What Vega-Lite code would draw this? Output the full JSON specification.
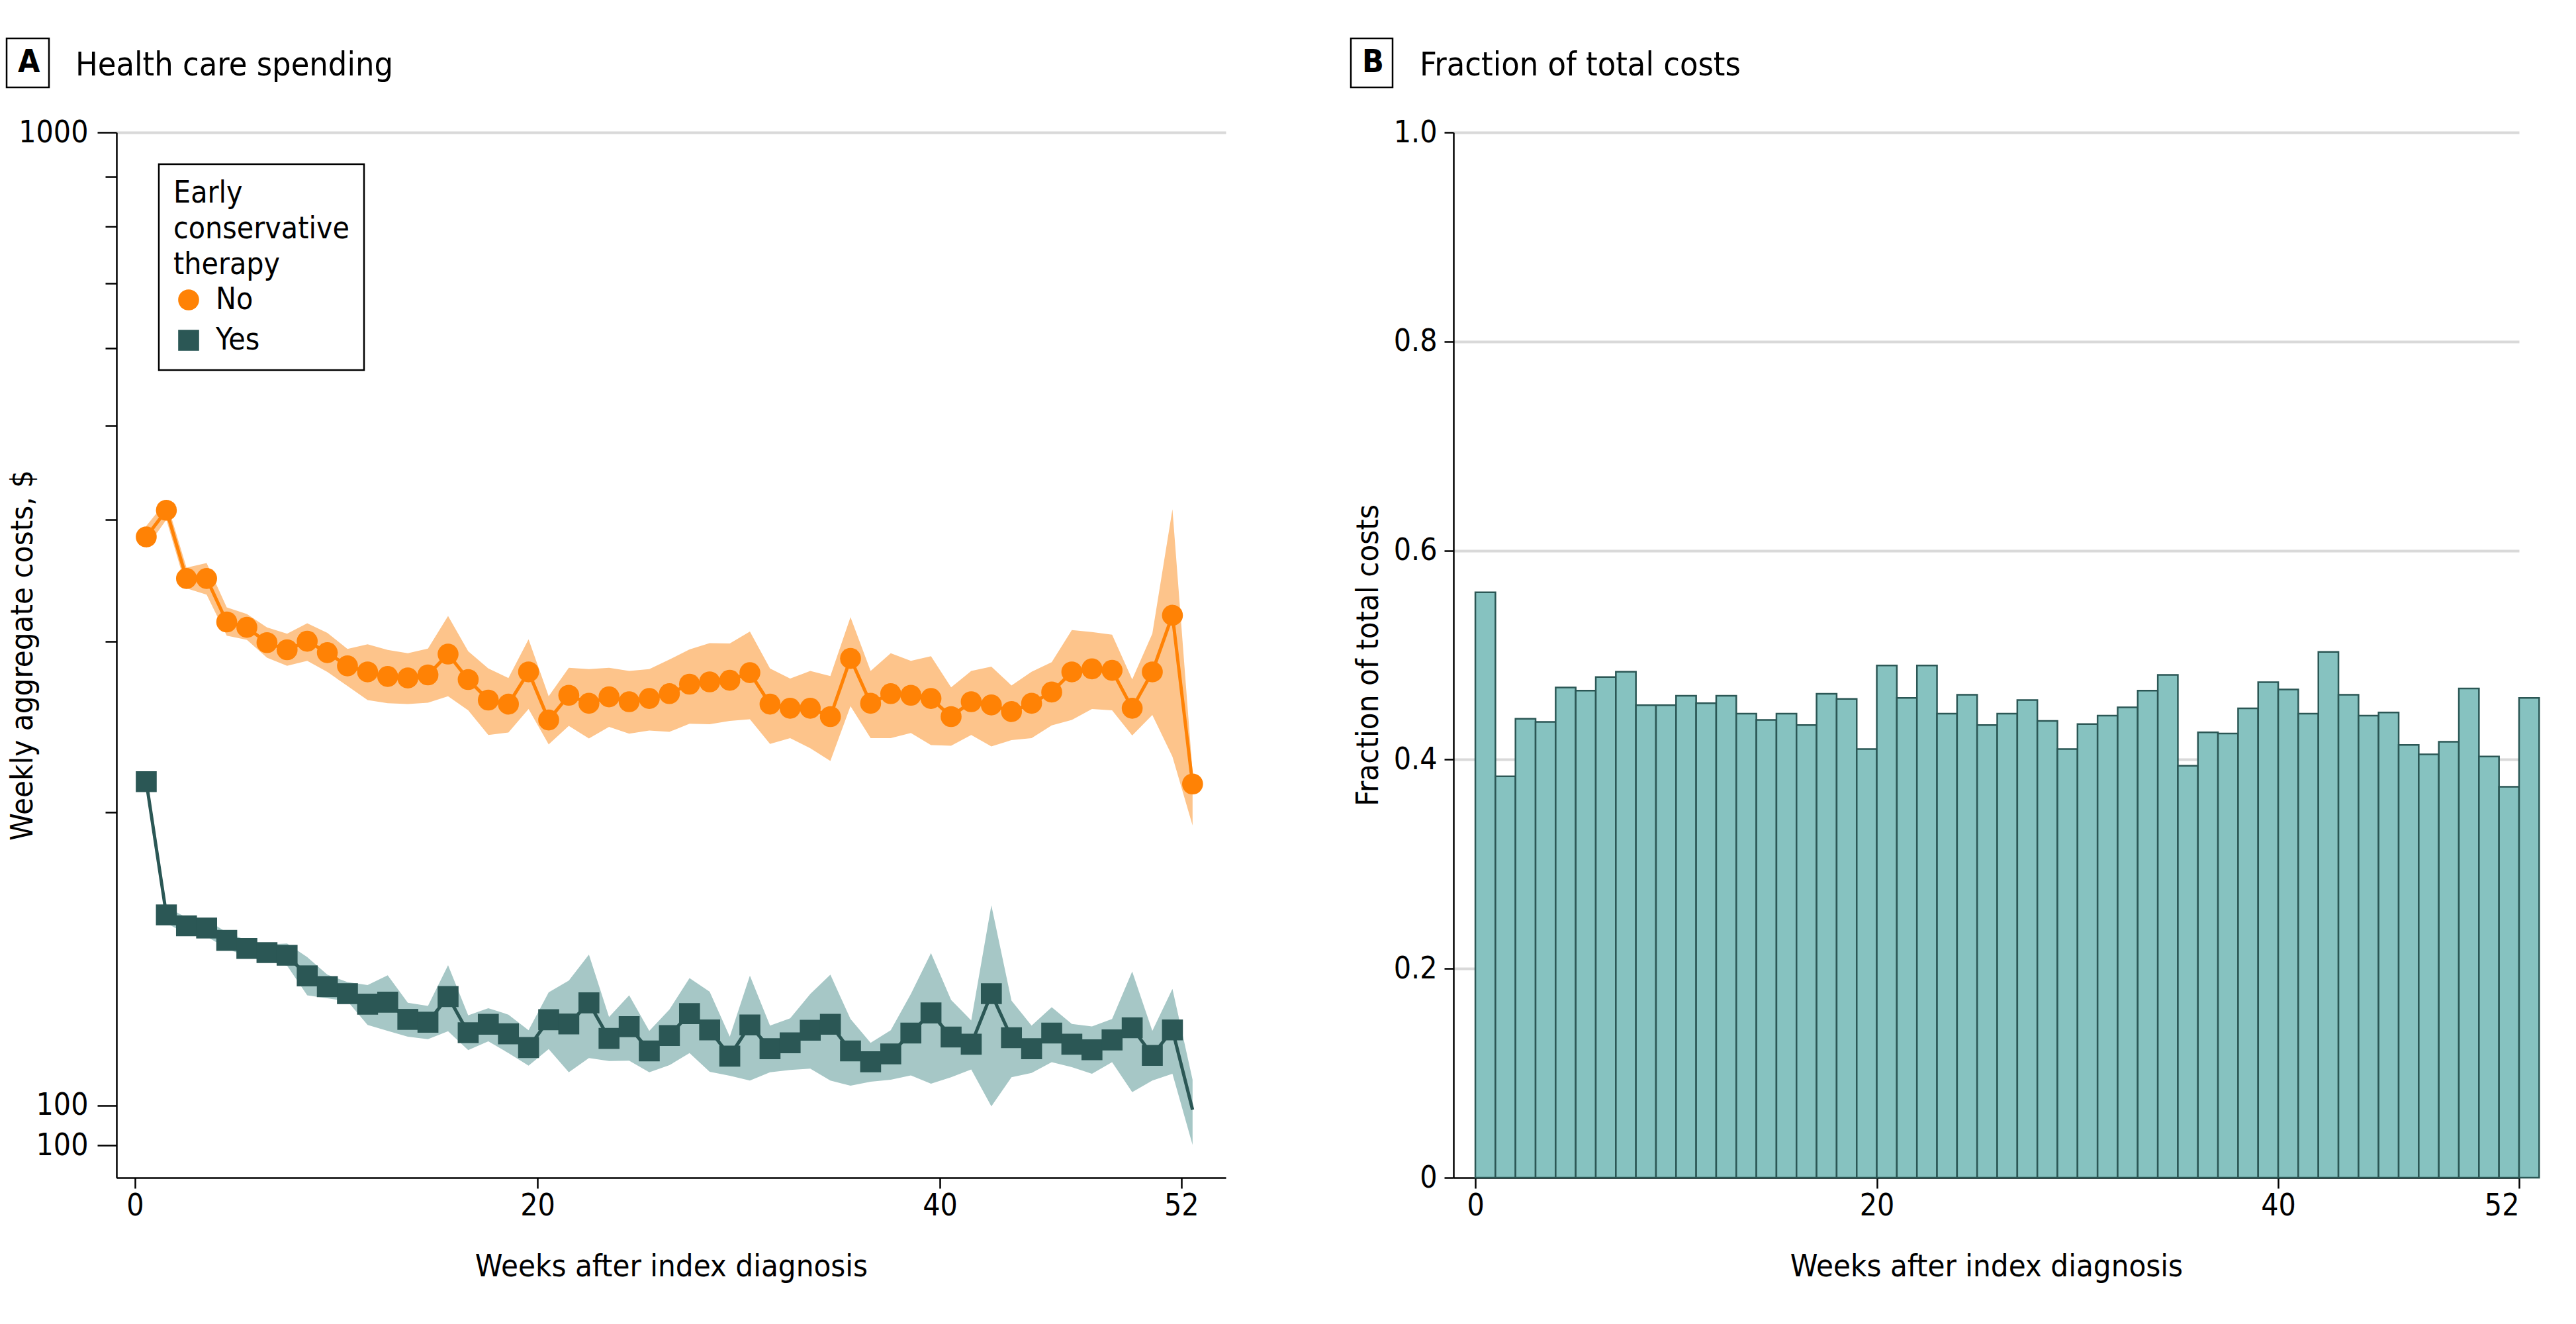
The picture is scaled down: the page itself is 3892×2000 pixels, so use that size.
{
"$schema":"https://vega.github.io/schema/vega-lite/v6.json",
"background":"white",
"padding":{"left":8,"top":56,"right":20,"bottom":20},
"config":{
 "font":"Liberation Sans Narrow, DejaVu Sans Condensed, sans-serif",
 "view":{"stroke":null},
 "axis":{"domainColor":"black","domainWidth":2.5,"tickColor":"black","tickWidth":2.5,"labelFontSize":46,"titleFontSize":47,"labelColor":"black","titleColor":"black","titleFontWeight":"normal","gridColor":"#D9D9D9","gridWidth":4,"labelFont":"Liberation Sans Narrow, DejaVu Sans Condensed, sans-serif","titleFont":"Liberation Sans Narrow, DejaVu Sans Condensed, sans-serif"},
 "title":{"fontSize":50,"fontWeight":"normal","color":"black","font":"Liberation Sans Narrow, DejaVu Sans Condensed, sans-serif"},
 "legend":{"labelFont":"Liberation Sans Narrow, DejaVu Sans Condensed, sans-serif","titleFont":"Liberation Sans Narrow, DejaVu Sans Condensed, sans-serif","strokeWidth":2.5}
},
"datasets":{
 "spending":[
{"week":0,"therapy":"No","cost":384,"lower":374,"upper":394},
{"week":1,"therapy":"No","cost":409,"lower":400,"upper":418},
{"week":2,"therapy":"No","cost":348,"lower":340,"upper":357},
{"week":3,"therapy":"No","cost":348,"lower":335,"upper":361},
{"week":4,"therapy":"No","cost":314,"lower":304,"upper":325},
{"week":5,"therapy":"No","cost":310,"lower":301,"upper":320},
{"week":6,"therapy":"No","cost":299,"lower":288.5,"upper":310},
{"week":7,"therapy":"No","cost":294,"lower":283,"upper":305.4},
{"week":8,"therapy":"No","cost":300,"lower":286.4,"upper":313},
{"week":9,"therapy":"No","cost":292,"lower":279,"upper":306},
{"week":10,"therapy":"No","cost":283,"lower":269.8,"upper":294.6},
{"week":11,"therapy":"No","cost":279,"lower":261,"upper":297.8},
{"week":12,"therapy":"No","cost":276,"lower":259.1,"upper":293.9},
{"week":13,"therapy":"No","cost":275,"lower":258.6,"upper":291.6},
{"week":14,"therapy":"No","cost":277,"lower":259.4,"upper":294.8},
{"week":15,"therapy":"No","cost":291,"lower":263.4,"upper":318.5},
{"week":16,"therapy":"No","cost":274,"lower":254.7,"upper":293},
{"week":17,"therapy":"No","cost":261,"lower":240.3,"upper":281.3},
{"week":18,"therapy":"No","cost":258.5,"lower":241.7,"upper":275},
{"week":19,"therapy":"No","cost":279,"lower":255.5,"upper":301.4},
{"week":20,"therapy":"No","cost":249,"lower":235,"upper":263.4},
{"week":21,"therapy":"No","cost":264,"lower":245.5,"upper":281.7},
{"week":22,"therapy":"No","cost":259,"lower":238.3,"upper":280.8},
{"week":23,"therapy":"No","cost":263,"lower":245,"upper":281.7},
{"week":24,"therapy":"No","cost":260,"lower":241.1,"upper":279.6},
{"week":25,"therapy":"No","cost":262,"lower":242.9,"upper":280.8},
{"week":26,"therapy":"No","cost":265,"lower":242.1,"upper":287.3},
{"week":27,"therapy":"No","cost":271,"lower":246.8,"upper":294.2},
{"week":28,"therapy":"No","cost":272.5,"lower":246.5,"upper":298.7},
{"week":29,"therapy":"No","cost":273.5,"lower":248.4,"upper":298.4},
{"week":30,"therapy":"No","cost":278.5,"lower":249.4,"upper":307},
{"week":31,"therapy":"No","cost":258.5,"lower":235.3,"upper":281.3},
{"week":32,"therapy":"No","cost":256,"lower":238.5,"upper":274.6},
{"week":33,"therapy":"No","cost":256,"lower":232.9,"upper":279.6},
{"week":34,"therapy":"No","cost":251,"lower":226,"upper":276.3},
{"week":35,"therapy":"No","cost":288,"lower":257.3,"upper":317.6},
{"week":36,"therapy":"No","cost":259,"lower":238.5,"upper":279.6},
{"week":37,"therapy":"No","cost":265,"lower":238.5,"upper":291.6},
{"week":38,"therapy":"No","cost":264,"lower":241.4,"upper":286.4},
{"week":39,"therapy":"No","cost":262,"lower":234.6,"upper":289.5},
{"week":40,"therapy":"No","cost":251,"lower":234.3,"upper":269},
{"week":41,"therapy":"No","cost":260,"lower":240.3,"upper":279.6},
{"week":42,"therapy":"No","cost":258,"lower":233.9,"upper":282.5},
{"week":43,"therapy":"No","cost":254,"lower":237.4,"upper":270.2},
{"week":44,"therapy":"No","cost":259,"lower":238.5,"upper":279.1},
{"week":45,"therapy":"No","cost":266,"lower":245.8,"upper":285.5},
{"week":46,"therapy":"No","cost":279,"lower":249,"upper":308},
{"week":47,"therapy":"No","cost":281,"lower":255.5,"upper":306.6},
{"week":48,"therapy":"No","cost":280,"lower":254.7,"upper":304.7},
{"week":49,"therapy":"No","cost":256,"lower":240,"upper":274.1},
{"week":50,"therapy":"No","cost":279,"lower":252,"upper":305.4},
{"week":51,"therapy":"No","cost":319,"lower":228.3,"upper":410},
{"week":52,"therapy":"No","cost":214,"lower":194,"upper":220},
{"week":0,"therapy":"Yes","cost":215.2,"lower":211,"upper":219.5},
{"week":1,"therapy":"Yes","cost":157,"lower":154,"upper":160},
{"week":2,"therapy":"Yes","cost":153,"lower":150,"upper":156},
{"week":3,"therapy":"Yes","cost":152.2,"lower":149.2,"upper":155.2},
{"week":4,"therapy":"Yes","cost":147.8,"lower":145,"upper":150.6},
{"week":5,"therapy":"Yes","cost":145,"lower":142.2,"upper":147.8},
{"week":6,"therapy":"Yes","cost":143.6,"lower":140.8,"upper":146.4},
{"week":7,"therapy":"Yes","cost":142.7,"lower":139.2,"upper":146.7},
{"week":8,"therapy":"Yes","cost":135.9,"lower":129.8,"upper":142.1},
{"week":9,"therapy":"Yes","cost":132.5,"lower":128.9,"upper":136.3},
{"week":10,"therapy":"Yes","cost":130.3,"lower":128,"upper":133.9},
{"week":11,"therapy":"Yes","cost":127.1,"lower":121,"upper":133},
{"week":12,"therapy":"Yes","cost":127.7,"lower":119.3,"upper":136.1},
{"week":13,"therapy":"Yes","cost":122.6,"lower":117.7,"upper":127.5},
{"week":14,"therapy":"Yes","cost":121.8,"lower":117,"upper":126.6},
{"week":15,"therapy":"Yes","cost":129.4,"lower":119.2,"upper":139.4},
{"week":16,"therapy":"Yes","cost":118.8,"lower":114,"upper":123.8},
{"week":17,"therapy":"Yes","cost":121.2,"lower":116.4,"upper":125.9},
{"week":18,"therapy":"Yes","cost":118.5,"lower":113.2,"upper":124},
{"week":19,"therapy":"Yes","cost":114.7,"lower":109.9,"upper":119.5},
{"week":20,"therapy":"Yes","cost":122.5,"lower":114.3,"upper":130.7},
{"week":21,"therapy":"Yes","cost":121.3,"lower":108.2,"upper":134.4},
{"week":22,"therapy":"Yes","cost":127.5,"lower":111.9,"upper":142.9},
{"week":23,"therapy":"Yes","cost":117.2,"lower":111.1,"upper":123.3},
{"week":24,"therapy":"Yes","cost":120.5,"lower":111.2,"upper":129.8},
{"week":25,"therapy":"Yes","cost":113.8,"lower":108.2,"upper":119.3},
{"week":26,"therapy":"Yes","cost":118,"lower":110,"upper":125.5},
{"week":27,"therapy":"Yes","cost":124.3,"lower":113.2,"upper":135.2},
{"week":28,"therapy":"Yes","cost":119.6,"lower":108.3,"upper":130.9},
{"week":29,"therapy":"Yes","cost":112.4,"lower":107.3,"upper":117.7},
{"week":30,"therapy":"Yes","cost":121,"lower":106.1,"upper":136},
{"week":31,"therapy":"Yes","cost":114.4,"lower":108.2,"upper":120.8},
{"week":32,"therapy":"Yes","cost":116,"lower":108.8,"upper":122.9},
{"week":33,"therapy":"Yes","cost":119.5,"lower":109.1,"upper":130.2},
{"week":34,"therapy":"Yes","cost":121.2,"lower":106.1,"upper":136.3},
{"week":35,"therapy":"Yes","cost":113.8,"lower":104.8,"upper":122.7},
{"week":36,"therapy":"Yes","cost":110.9,"lower":105.8,"upper":116},
{"week":37,"therapy":"Yes","cost":113,"lower":106.3,"upper":119.5},
{"week":38,"therapy":"Yes","cost":118.7,"lower":107.4,"upper":130.2},
{"week":39,"therapy":"Yes","cost":124.5,"lower":105.3,"upper":143.4},
{"week":40,"therapy":"Yes","cost":117.6,"lower":106.9,"upper":128.4},
{"week":41,"therapy":"Yes","cost":115.6,"lower":108.9,"upper":122.3},
{"week":42,"therapy":"Yes","cost":130.3,"lower":99.8,"upper":160.6},
{"week":43,"therapy":"Yes","cost":117.4,"lower":106.9,"upper":128.2},
{"week":44,"therapy":"Yes","cost":114.4,"lower":108,"upper":120.8},
{"week":45,"therapy":"Yes","cost":118.7,"lower":110.8,"upper":126.2},
{"week":46,"therapy":"Yes","cost":115.6,"lower":109.5,"upper":121.3},
{"week":47,"therapy":"Yes","cost":114.1,"lower":107.8,"upper":120.6},
{"week":48,"therapy":"Yes","cost":116.8,"lower":110.8,"upper":122.7},
{"week":49,"therapy":"Yes","cost":120.2,"lower":103.2,"upper":137.3},
{"week":50,"therapy":"Yes","cost":112.6,"lower":106.1,"upper":119.3},
{"week":51,"therapy":"Yes","cost":119.6,"lower":107.8,"upper":131.8},
{"week":52,"therapy":"Yes","cost":99,"lower":91.1,"upper":106.3}
 ],
 "fraction":[
{"week":0,"week_end":1,"frac":0.560},{"week":1,"week_end":2,"frac":0.384},{"week":2,"week_end":3,"frac":0.439},{"week":3,"week_end":4,"frac":0.436},
{"week":4,"week_end":5,"frac":0.469},{"week":5,"week_end":6,"frac":0.466},{"week":6,"week_end":7,"frac":0.479},{"week":7,"week_end":8,"frac":0.484},
{"week":8,"week_end":9,"frac":0.452},{"week":9,"week_end":10,"frac":0.452},{"week":10,"week_end":11,"frac":0.461},{"week":11,"week_end":12,"frac":0.454},
{"week":12,"week_end":13,"frac":0.461},{"week":13,"week_end":14,"frac":0.444},{"week":14,"week_end":15,"frac":0.438},{"week":15,"week_end":16,"frac":0.444},
{"week":16,"week_end":17,"frac":0.433},{"week":17,"week_end":18,"frac":0.463},{"week":18,"week_end":19,"frac":0.458},{"week":19,"week_end":20,"frac":0.410},
{"week":20,"week_end":21,"frac":0.490},{"week":21,"week_end":22,"frac":0.459},{"week":22,"week_end":23,"frac":0.490},{"week":23,"week_end":24,"frac":0.444},
{"week":24,"week_end":25,"frac":0.462},{"week":25,"week_end":26,"frac":0.433},{"week":26,"week_end":27,"frac":0.444},{"week":27,"week_end":28,"frac":0.457},
{"week":28,"week_end":29,"frac":0.437},{"week":29,"week_end":30,"frac":0.410},{"week":30,"week_end":31,"frac":0.434},{"week":31,"week_end":32,"frac":0.442},
{"week":32,"week_end":33,"frac":0.450},{"week":33,"week_end":34,"frac":0.466},{"week":34,"week_end":35,"frac":0.481},{"week":35,"week_end":36,"frac":0.394},
{"week":36,"week_end":37,"frac":0.426},{"week":37,"week_end":38,"frac":0.425},{"week":38,"week_end":39,"frac":0.449},{"week":39,"week_end":40,"frac":0.474},
{"week":40,"week_end":41,"frac":0.467},{"week":41,"week_end":42,"frac":0.444},{"week":42,"week_end":43,"frac":0.503},{"week":43,"week_end":44,"frac":0.462},
{"week":44,"week_end":45,"frac":0.442},{"week":45,"week_end":46,"frac":0.445},{"week":46,"week_end":47,"frac":0.414},{"week":47,"week_end":48,"frac":0.405},
{"week":48,"week_end":49,"frac":0.417},{"week":49,"week_end":50,"frac":0.468},{"week":50,"week_end":51,"frac":0.403},{"week":51,"week_end":52,"frac":0.374},
{"week":52,"week_end":53,"frac":0.459}
 ]
},
"spacing":187,
"resolve":{"scale":{"strokeDash":"independent"},"legend":{"strokeDash":"independent"}},
"hconcat":[
  {"width":1676,"height":1579,"data":{"name":"spending"},
   "title":{"text":"Health care spending","anchor":"start","frame":"group","orient":"top","dx":-62,"offset":-92,"baseline":"middle","fontSize":50},
   "encoding":{"x":{"field":"week","type":"quantitative","scale":{"domain":[-0.92,54.21],"nice":false,"zero":false},
     "axis":{"values":[0,20,40,52],"tickSize":16,"labelPadding":4,"grid":false,"title":"Weeks after index diagnosis","titlePadding":46}}},
   "layer":[
    {"mark":{"type":"area","xOffset":17,"opacity":1},
     "encoding":{
      "y":{"field":"upper","type":"quantitative","title":"Weekly aggregate costs, $","scale":{"type":"log","domain":[84.3,1000],"nice":false},
        "axis":{"values":[91,100,200,300,400,500,600,700,800,900,1000],"labelExpr":"datum.value == 1000 ? '1000' : (datum.value <= 100 ? '100' : '')","tickSize":{"condition":{"test":"datum.value == 1000 || datum.value <= 100","value":29},"value":17},"labelPadding":14,"grid":true,"gridOpacity":{"condition":{"test":"datum.value == 1000","value":1},"value":0},"titleX":-142,"titleBaseline":"middle"}},
      "y2":{"field":"lower"},
      "detail":{"field":"therapy","type":"nominal"},
      "fill":{"condition":{"test":"datum.therapy == 'No'","value":"#FDC48B"},"value":"#A6C7C6"}}},
    {"mark":{"type":"line","xOffset":17,"strokeWidth":5},
     "encoding":{
      "y":{"field":"cost","type":"quantitative","title":"Weekly aggregate costs, $","scale":{"type":"log","domain":[84.3,1000],"nice":false}},
      "color":{"field":"therapy","type":"nominal","scale":{"domain":["No","Yes"],"range":["#FF8205","#2B5755"]},
        "legend":{"title":["Early","conservative","therapy"],"orient":"none","legendX":64,"legendY":48,"strokeColor":"black","padding":22,"titleFontSize":46,"titleFontWeight":"normal","titleColor":"black","titleLineHeight":54,"titlePadding":6,"titleLimit":1000,"labelFontSize":46,"labelColor":"black","symbolSize":1000,"symbolStrokeWidth":0,"symbolOpacity":1,"rowPadding":15,"labelOffset":18}}}},
    {"transform":[{"filter":"datum.cost >= 100"}],
     "mark":{"type":"point","xOffset":17,"filled":true,"opacity":1,"size":1000},
     "encoding":{
      "y":{"field":"cost","type":"quantitative","title":"Weekly aggregate costs, $","scale":{"type":"log","domain":[84.3,1000],"nice":false}},
      "color":{"field":"therapy","type":"nominal","scale":{"domain":["No","Yes"],"range":["#FF8205","#2B5755"]},
        "legend":{"title":["Early","conservative","therapy"],"orient":"none","legendX":64,"legendY":48,"strokeColor":"black","padding":22,"titleFontSize":46,"titleFontWeight":"normal","titleColor":"black","titleLineHeight":54,"titlePadding":6,"titleLimit":1000,"labelFontSize":46,"labelColor":"black","symbolSize":1000,"symbolStrokeWidth":0,"symbolOpacity":1,"rowPadding":15,"labelOffset":18}},
      "shape":{"field":"therapy","type":"nominal","scale":{"domain":["No","Yes"],"range":["circle","square"]},
        "legend":{"title":["Early","conservative","therapy"],"orient":"none","legendX":64,"legendY":48,"strokeColor":"black","padding":22,"titleFontSize":46,"titleFontWeight":"normal","titleColor":"black","titleLineHeight":54,"titlePadding":6,"titleLimit":1000,"labelFontSize":46,"labelColor":"black","symbolSize":1000,"symbolStrokeWidth":0,"symbolOpacity":1,"rowPadding":15,"labelOffset":18}}}},
    {"mark":{"type":"point","size":0,"opacity":0},
     "encoding":{
      "y":{"field":"cost","type":"quantitative","title":"Weekly aggregate costs, $","scale":{"type":"log","domain":[84.3,1000],"nice":false}},
      "strokeDash":{"datum":"A","type":"nominal",
        "legend":{"title":null,"orient":"none","legendX":-166,"legendY":-142,"strokeColor":"black","padding":13,"labelFontSize":48,"labelFontWeight":"bold","labelColor":"black","symbolSize":0,"symbolOpacity":0,"symbolStrokeWidth":0,"labelOffset":-44}}}}
   ]},
  {"width":1610,"height":1579,"data":{"name":"fraction"},
   "title":{"text":"Fraction of total costs","anchor":"start","frame":"group","orient":"top","dx":-51,"offset":-92,"baseline":"middle","fontSize":50},
   "encoding":{
    "x":{"field":"week","type":"quantitative","scale":{"domain":[-1.09,52],"nice":false,"zero":false},
      "axis":{"values":[0,20,40,52],"tickSize":16,"labelPadding":4,"grid":false,"title":"Weeks after index diagnosis","titlePadding":46}},
    "y":{"field":"frac","type":"quantitative","title":"Fraction of total costs","scale":{"domain":[0,1],"nice":false},
      "axis":{"values":[0,0.2,0.4,0.6,0.8,1],"labelExpr":"datum.value == 0 ? '0' : format(datum.value, '.1f')","tickSize":14,"labelPadding":11,"grid":true,"gridOpacity":{"condition":{"test":"datum.value > 0","value":1},"value":0},"titleX":-129,"titleBaseline":"middle"}}},
   "layer":[
    {"mark":{"type":"bar","fill":"#86C2C0","stroke":"#2B5755","strokeWidth":2.5},
     "encoding":{"x2":{"field":"week_end"},"y2":{"datum":0}}},
    {"mark":{"type":"point","size":0,"opacity":0},
     "encoding":{
      "strokeDash":{"datum":"B","type":"nominal",
        "legend":{"title":null,"orient":"none","legendX":-155,"legendY":-142,"strokeColor":"black","padding":13,"labelFontSize":48,"labelFontWeight":"bold","labelColor":"black","symbolSize":0,"symbolOpacity":0,"symbolStrokeWidth":0,"labelOffset":-44}}}}
   ]}
]
}
